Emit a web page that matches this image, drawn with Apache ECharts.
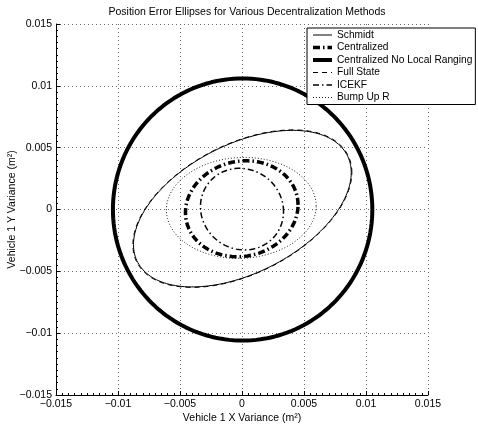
<!DOCTYPE html>
<html>
<head>
<meta charset="utf-8">
<script src="https://cdn.jsdelivr.net/npm/echarts@6/dist/echarts.min.js"></script>
<style>
html,body{margin:0;padding:0;background:#fff;}
#chart{width:478px;height:427px;}
</style>
</head>
<body>
<div id="chart"></div>
<script>
// Ellipse parameters (units: m^2)
const methods = ['Schmidt', 'Centralized', 'Centralized No Local Ranging', 'Full State', 'ICEKF', 'Bump Up R'];
const centerX = [0.00003, -0.00002, 0.00005, 0.00003, 0.00000, -0.00006];
const centerY = [0.00007, 0.00006, 0.00000, 0.00007, 0.00003, 0.00013];
const halfWidthX = [0.00878, 0.00454, 0.01046, 0.00883, 0.00335, 0.00604];
const halfHeightY = [0.00633, 0.00388, 0.01060, 0.00637, 0.00330, 0.00408];
const correlation = [0.46, 0.08, 0.0, 0.46, -0.06, 0.04];
const axisTicks = [-0.015, -0.01, -0.005, 0, 0.005, 0.01, 0.015];

const lineStyles = [
  {color: '#000', width: 1, type: 'solid'},
  {color: '#000', width: 3.5, type: [7, 3, 1.5, 3]},
  {color: '#000', width: 4, type: 'solid'},
  {color: '#000', width: 1, type: [5, 4]},
  {color: '#000', width: 1.5, type: [6, 3, 1.5, 3]},
  {color: '#222', width: 1, type: [1, 2]}
];

function ellipsePoints(i) {
  const pts = [];
  const r = correlation[i];
  const s = Math.sqrt(1 - r * r);
  for (let k = 0; k <= 180; k++) {
    const t = k / 180 * 2 * Math.PI;
    pts.push([
      centerX[i] + halfWidthX[i] * Math.cos(t),
      centerY[i] + halfHeightY[i] * (r * Math.cos(t) + s * Math.sin(t))
    ]);
  }
  return pts;
}

const fmt = v => {
  const r = Math.round(v * 1000) / 1000;
  return String(r).replace('-', '\u2212');
};
const font = 'Liberation Sans, Arial, Helvetica, sans-serif';

const axisCommon = (name, gap) => ({
  type: 'value',
  min: axisTicks[0],
  max: axisTicks[axisTicks.length - 1],
  interval: axisTicks[1] - axisTicks[0],
  name: name,
  nameLocation: 'middle',
  nameGap: gap,
  nameMoveOverlap: false,
  nameTextStyle: {color: '#000', fontSize: 10.5, fontFamily: font},
  axisLine: {show: true, onZero: false, lineStyle: {color: '#000', width: 1}},
  axisTick: {show: true, inside: true, length: 4, lineStyle: {color: '#000'}},
  minorTick: {show: true, splitNumber: 10, length: 2, lineStyle: {color: '#000'}},
  axisLabel: {color: '#000', fontSize: 10.5, fontFamily: font, margin: 4, formatter: fmt},
  splitLine: {show: true, lineStyle: {color: '#666', width: 1, type: [1, 3]}}
});

const chart = echarts.init(document.getElementById('chart'), null, {renderer: 'canvas'});
chart.setOption({
  animation: false,
  backgroundColor: '#fff',
  title: {
    text: 'Position Error Ellipses for Various Decentralization Methods',
    left: 242, textAlign: 'center', top: 2,
    textStyle: {fontSize: 10.5, fontWeight: 'normal', color: '#000', fontFamily: font}
  },
  grid: {left: 56, right: 50, top: 24, bottom: 32, containLabel: false, outerBoundsMode: 'none'},
  xAxis: axisCommon('Vehicle 1 X Variance (m\u00B2)', 18),
  yAxis: axisCommon('Vehicle 1 Y Variance (m\u00B2)', 38),
  legend: {
    orient: 'vertical',
    left: 307, top: 28,
    padding: [2, 3, 2, 4],
    itemWidth: 19, itemHeight: 10, itemGap: 2.5,
    backgroundColor: '#fff',
    borderColor: '#000', borderWidth: 1, borderRadius: 0,
    textStyle: {fontSize: 10.2, color: '#000', fontFamily: font},
    itemStyle: {opacity: 0},
    data: methods.map((m, i) => ({
      name: m,
      lineStyle: {color: lineStyles[i].color, width: lineStyles[i].width, type: lineStyles[i].type}
    })),
    selectedMode: false
  },
  series: methods.map((m, i) => ({
    name: m,
    type: 'line',
    data: ellipsePoints(i),
    symbol: 'none',
    showSymbol: false,
    silent: true,
    lineStyle: lineStyles[i],
    itemStyle: {color: '#000'},
    z: 2
  }))
});
</script>
</body>
</html>
